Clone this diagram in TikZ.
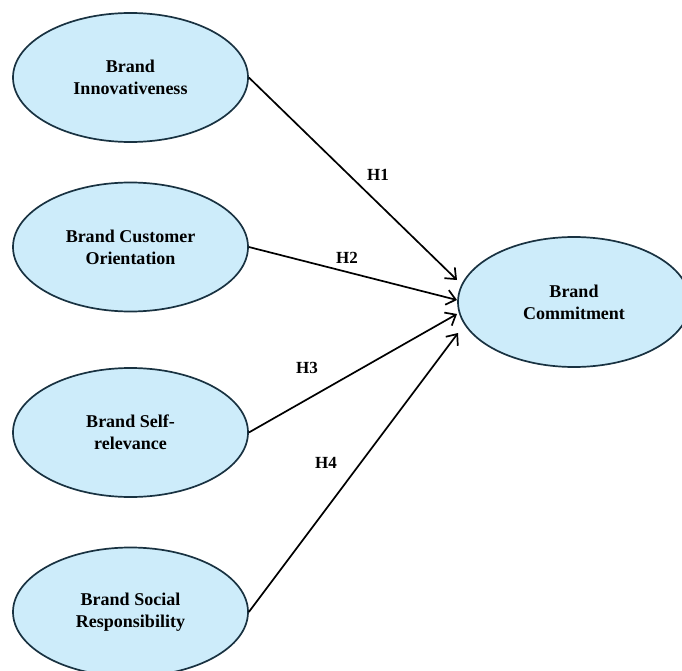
\documentclass[tikz,border=0pt]{standalone}
\usepackage{fontspec}
\setmainfont{Liberation Serif}
\usetikzlibrary{shapes.geometric,arrows.meta}
\definecolor{fillblue}{RGB}{205,236,250}
\definecolor{edgecol}{RGB}{25,50,65}
\begin{document}
\begin{tikzpicture}[x=1pt,y=-1pt,
  construct/.style={ellipse, draw=edgecol, line width=1.7pt, fill=fillblue,
    minimum width=235pt, minimum height=129pt, inner sep=0pt, align=center,
    font=\fontsize{18}{22}\selectfont\bfseries},
  link/.style={draw=black, line width=1.7pt, -{Straight Barb[length=9pt,width=15pt]}},
  hlabel/.style={font=\fontsize{17}{20}\selectfont\bfseries, inner sep=0pt}]
\useasboundingbox (0,0) rectangle (682,671);
\node[construct] (bi) at (130.5,77.5) {Brand\\Innovativeness};
\node[construct] (bco) at (130.5,247) {Brand Customer\\Orientation};
\node[construct] (bsr) at (130.5,432.5) {Brand Self-\\relevance};
\node[construct] (bsoc) at (130.5,612) {Brand Social\\Responsibility};
\node[construct, minimum width=232pt, minimum height=130pt] (bc) at (574,302) {Brand\\Commitment};
\coordinate (t1) at (457,280);
\coordinate (t2) at (457,300);
\coordinate (t3) at (457,314);
\coordinate (t4) at (458,333);
\draw[link] (bi.east) -- (t1);
\draw[link] (bco.east) -- (t2);
\draw[link] (bsr.east) -- (t3);
\draw[link] (bsoc.east) -- (t4);
\node[hlabel] (h1) at (378,175) {H1};
\node[hlabel] (h2) at (347,258) {H2};
\node[hlabel] (h3) at (307,368) {H3};
\node[hlabel] (h4) at (326,463) {H4};
\end{tikzpicture}
\end{document}
